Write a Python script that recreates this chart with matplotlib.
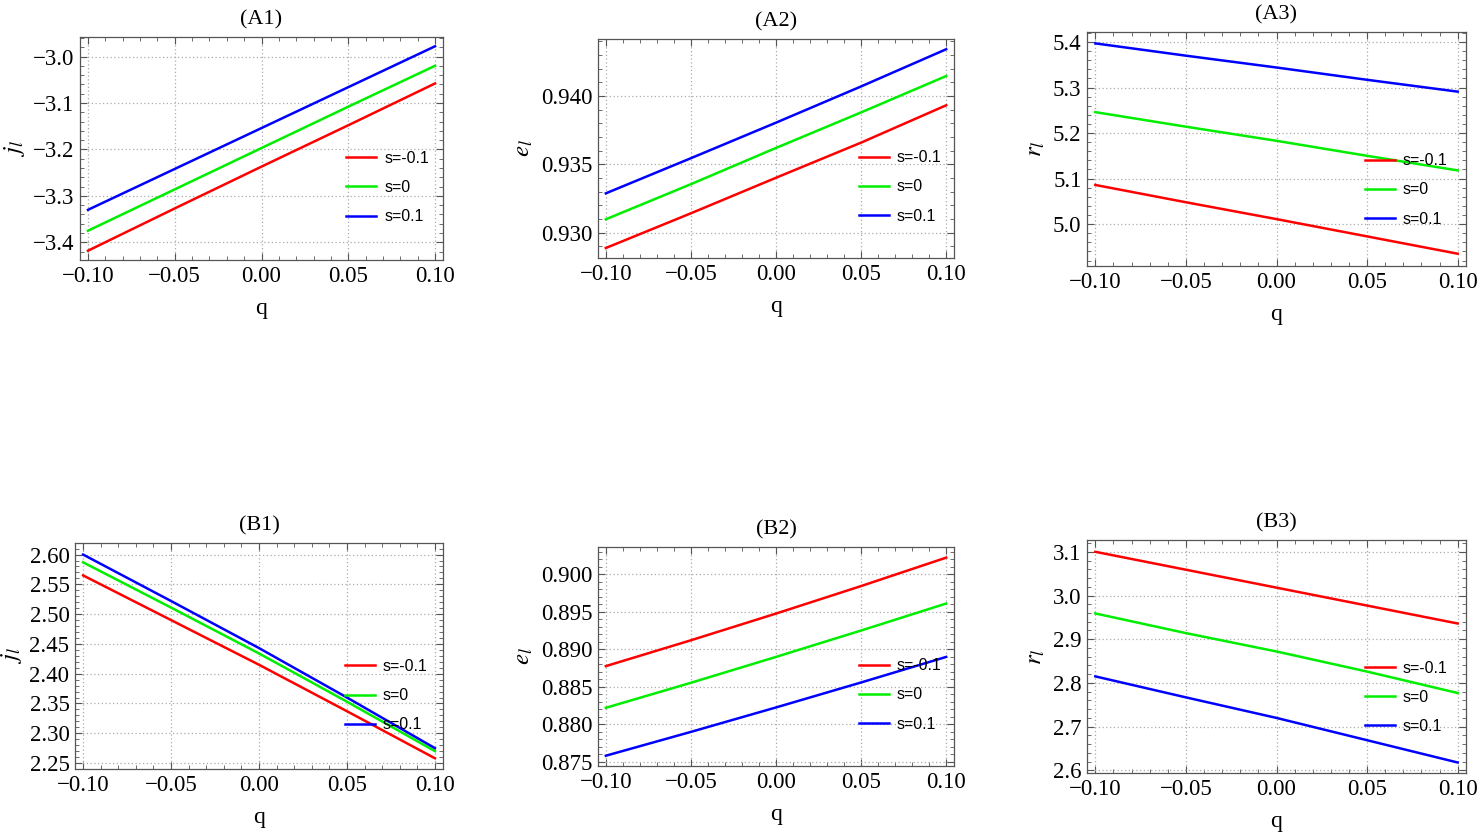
import matplotlib
matplotlib.use("Agg")
import matplotlib.pyplot as plt
from matplotlib.ticker import AutoMinorLocator, MultipleLocator, FuncFormatter

plt.rcParams['mathtext.fontset'] = 'stix'
plt.rcParams['font.family'] = ['Liberation Serif', 'DejaVu Serif']

q = [-0.1, -0.05, 0.0, 0.05, 0.1]
labels = ["s=-0.1", "s=0", "s=0.1"]
colors = ["#ff0000", "#00ee00", "#0000ff"]

A1_red = [-3.418, -3.327, -3.237, -3.148, -3.058]
A1_green = [-3.375, -3.286, -3.197, -3.108, -3.020]
A1_blue = [-3.330, -3.242, -3.154, -3.066, -2.978]

A2_red = [0.92888, 0.93142, 0.93402, 0.93659, 0.93932]
A2_green = [0.93098, 0.93355, 0.93620, 0.93880, 0.94146]
A2_blue = [0.93288, 0.93545, 0.93805, 0.94070, 0.94342]

A3_red = [5.086, 5.048, 5.011, 4.973, 4.935]
A3_green = [5.246, 5.214, 5.183, 5.150, 5.118]
A3_blue = [5.397, 5.370, 5.344, 5.317, 5.291]

B1_red = [2.565, 2.490, 2.415, 2.337, 2.258]
B1_green = [2.587, 2.511, 2.434, 2.353, 2.270]
B1_blue = [2.600, 2.522, 2.443, 2.360, 2.275]

B2_red = [0.88775, 0.89120, 0.89476, 0.89843, 0.90222]
B2_green = [0.88219, 0.88553, 0.88898, 0.89250, 0.89610]
B2_blue = [0.87580, 0.87898, 0.88224, 0.88557, 0.88898]

B3_red = [3.100, 3.059, 3.018, 2.977, 2.936]
B3_green = [2.959, 2.914, 2.872, 2.826, 2.777]
B3_blue = [2.815, 2.767, 2.720, 2.669, 2.618]

W, H = 1480, 834
fig = plt.figure(figsize=(W / 100, H / 100), dpi=100)

panels = [
    ("(A1)", r"$j_l$", [A1_red, A1_green, A1_blue], (80, 443, 37, 260), (-2.958, -3.438), 0.1, 1),
    ("(A2)", r"$e_l$", [A2_red, A2_green, A2_blue], (598, 954, 39, 258), (0.94417, 0.92815), 0.005, 3),
    ("(A3)", r"$r_l$", [A3_red, A3_green, A3_blue], (1087, 1466, 32, 266), (5.422, 4.908), 0.1, 1),
    ("(B1)", r"$j_l$", [B1_red, B1_green, B1_blue], (75, 443, 543, 769), (2.6194, 2.240), 0.05, 2),
    ("(B2)", r"$e_l$", [B2_red, B2_green, B2_blue], (598, 954, 547, 766), (0.90364, 0.87443), 0.005, 3),
    ("(B3)", r"$r_l$", [B3_red, B3_green, B3_blue], (1087, 1466, 540, 773), (3.127, 2.594), 0.1, 1),
]


def make_fmt(nd):
    def f(v, pos):
        s = f"{v:.{nd}f}"
        if s.startswith("-"):
            if float(s) == 0:
                s = s[1:]
            else:
                s = "\u2212" + s[1:]
        return s
    return FuncFormatter(f)


frame_col = "#555555"
for title, ylab, series, (x0, x1, y0, y1), (ytop, ybot), ystep, nd in panels:
    ax = fig.add_axes([x0 / W, 1 - y1 / H, (x1 - x0) / W, (y1 - y0) / H])
    for vals, c, lab in zip(series, colors, labels):
        ax.plot(q, vals, color=c, lw=1.8, label=lab)
    ax.set_xlim(-0.1046, 0.1046)
    ax.set_ylim(ybot, ytop)
    ax.xaxis.set_major_locator(MultipleLocator(0.05))
    ax.xaxis.set_major_formatter(make_fmt(2))
    ax.yaxis.set_major_locator(MultipleLocator(ystep))
    ax.yaxis.set_major_formatter(make_fmt(nd))
    ax.xaxis.set_minor_locator(AutoMinorLocator(5))
    ax.yaxis.set_minor_locator(AutoMinorLocator(5))
    ax.tick_params(which="both", direction="in", top=True, right=True,
                   color=frame_col, labelsize=16.5, labelcolor="black", pad=4)
    ax.tick_params(which="major", length=5, width=0.8)
    ax.tick_params(which="minor", length=3, width=0.6)
    for sp in ax.spines.values():
        sp.set_color(frame_col)
        sp.set_linewidth(0.9)
    ax.grid(True, which="major", color="#aaaaaa", linestyle=(0, (1, 2)), lw=0.9)
    ax.set_title(title, fontsize=16, pad=9)
    ax.set_xlabel("q", fontsize=17, labelpad=8)
    ax.set_ylabel(ylab, fontsize=18, labelpad=4)
    ax.legend(loc="center left", bbox_to_anchor=(0.733, 0.325), frameon=False,
              borderpad=0, borderaxespad=0, handlelength=1.9, handletextpad=0.5,
              labelspacing=0.9, prop={"family": "Liberation Sans", "size": 11.4})

fig.savefig("out.png", dpi=100)
